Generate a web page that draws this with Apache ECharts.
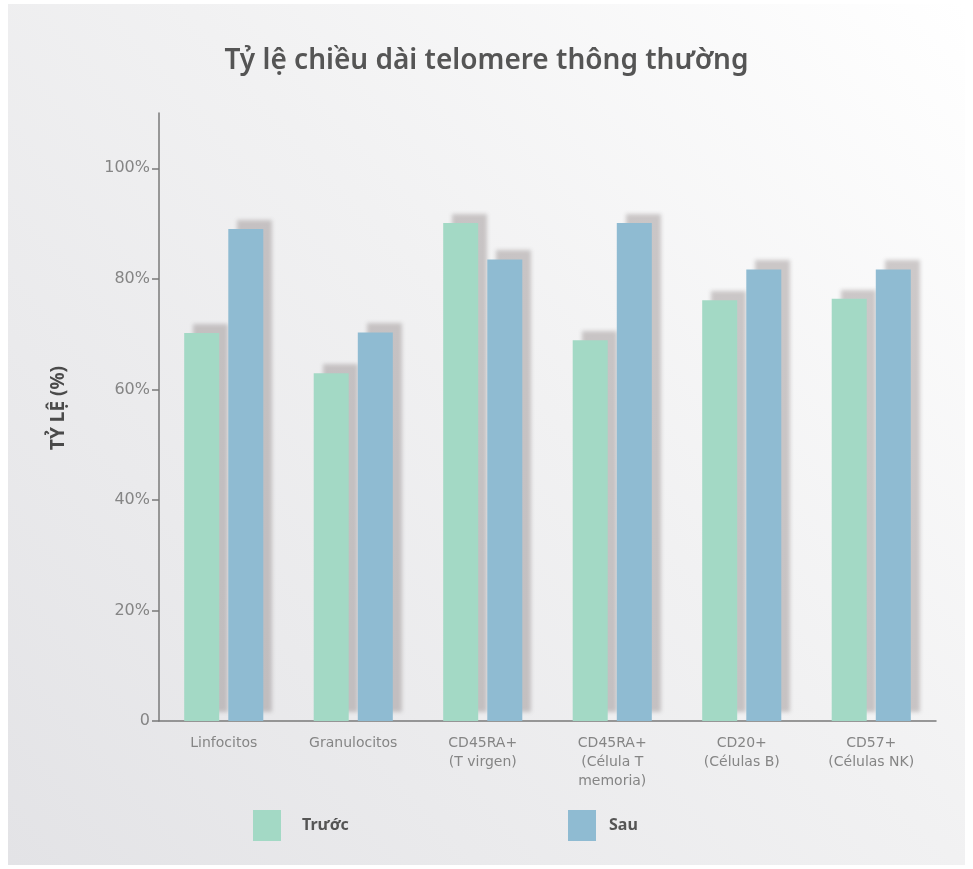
<!DOCTYPE html>
<html>
<head>
<meta charset="utf-8">
<style>
  html, body { margin: 0; padding: 0; background: #ffffff; }
  #chart { width: 973px; height: 869px; }
</style>
<script src="https://cdn.jsdelivr.net/npm/echarts@6/dist/echarts.min.js"></script>
</head>
<body>
<div id="chart"></div>
<script>
// Cell groups on the x axis
const categories = [
  'Linfocitos',
  'Granulocitos',
  'CD45RA+\n(T virgen)',
  'CD45RA+\n(Célula T\nmemoria)',
  'CD20+\n(Células B)',
  'CD57+\n(Células NK)'
];
// Percentage of normal telomere length, before and after
const truocValues = [70.2, 62.9, 90.1, 68.9, 76.1, 76.4];
const sauValues = [89.0, 70.3, 83.5, 90.1, 81.7, 81.7];
// Labelled ticks on the value axis
const yTicks = [0, 20, 40, 60, 80, 100];

const GREEN = '#a3d9c5';
const BLUE = '#8fbbd2';
const barShadow = {
  shadowColor: 'rgba(110, 95, 95, 0.32)',
  shadowBlur: 4,
  shadowOffsetX: 9,
  shadowOffsetY: -9
};

const chart = echarts.init(document.getElementById('chart'));
chart.setOption({
  animation: false,
  graphic: [{
    type: 'rect',
    z: -10,
    silent: true,
    shape: { x: 8, y: 4, width: 957, height: 861 },
    style: {
      fill: new echarts.graphic.LinearGradient(1, 0, 0, 1, [
        { offset: 0, color: '#ffffff' },
        { offset: 0.45, color: '#f1f1f2' },
        { offset: 1, color: '#e3e3e6' }
      ])
    }
  }],
  title: {
    text: 'Tỷ lệ chiều dài telomere thông thường',
    left: 'center',
    top: 42,
    textStyle: {
      fontFamily: 'Noto Sans',
      fontSize: 28,
      fontWeight: 600,
      color: '#555555'
    }
  },
  legend: [
    {
      data: ['Trước'],
      left: 248,
      top: 805,
      itemWidth: 28,
      itemHeight: 31,
      icon: 'rect',
      textStyle: { fontFamily: 'Noto Sans', fontSize: 16, fontWeight: 'bold', color: '#555555', padding: [0, 0, 0, 16] }
    },
    {
      data: ['Sau'],
      left: 563,
      top: 805,
      itemWidth: 28,
      itemHeight: 31,
      icon: 'rect',
      textStyle: { fontFamily: 'Noto Sans', fontSize: 16, fontWeight: 'bold', color: '#555555', padding: [0, 0, 0, 8] }
    }
  ],
  grid: { left: 159, right: 37, top: 113, bottom: 148 },
  xAxis: {
    type: 'category',
    data: categories,
    axisLine: { lineStyle: { color: '#7a7a7a', width: 1.5 } },
    axisTick: { alignWithLabel: true, length: 8, lineStyle: { color: '#7a7a7a', width: 1.5 } },
    axisLabel: {
      interval: 0,
      margin: 13,
      fontFamily: 'DejaVu Sans',
      fontSize: 14,
      lineHeight: 19,
      color: '#858585'
    }
  },
  yAxis: {
    type: 'value',
    min: 0,
    max: 110,
    interval: 20,
    name: 'TỶ LỆ (%)',
    nameLocation: 'middle',
    nameGap: 91,
    nameRotate: 90,
    nameTextStyle: { fontFamily: 'Noto Sans', fontSize: 19, fontWeight: 'bold', color: '#4a4a4a', padding: [0, 0, 0, 18] },
    axisLine: { show: true, lineStyle: { color: '#7a7a7a', width: 1.5 } },
    axisTick: { show: true, length: 7, customValues: yTicks, lineStyle: { color: '#7a7a7a', width: 1.5 } },
    splitLine: { show: false },
    axisLabel: {
      customValues: yTicks,
      margin: 9,
      fontFamily: 'DejaVu Sans',
      fontSize: 16,
      color: '#858585',
      formatter: v => (v === 0 ? '0' : v + '%')
    }
  },
  series: [
    {
      name: 'Trước',
      type: 'bar',
      data: truocValues,
      barWidth: 35,
      barGap: '26%',
      itemStyle: Object.assign({ color: GREEN }, barShadow)
    },
    {
      name: 'Sau',
      type: 'bar',
      data: sauValues,
      barWidth: 35,
      itemStyle: Object.assign({ color: BLUE }, barShadow)
    }
  ]
});
</script>
</body>
</html>
